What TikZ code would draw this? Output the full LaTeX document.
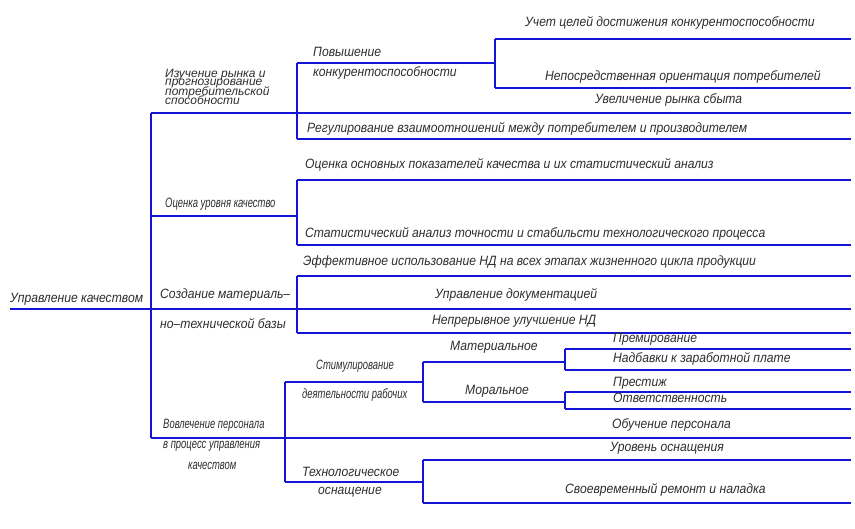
\documentclass[tikz,border=0pt]{standalone}
\usepackage{fontspec}
\setmainfont{Liberation Sans}
\newfontfamily\mainf{Liberation Sans}[FakeStretch=0.9]
\newfontfamily\narrowf{Liberation Sans}[FakeStretch=0.7]
\begin{document}
\begin{tikzpicture}[x=1pt,y=-1pt,
  ln/.style={draw={rgb,255:red,20;green,20;blue,215},line width=1.8pt},
  lbl/.style={anchor=west,inner sep=0pt,text={rgb,255:red,45;green,45;blue,45},font=\mainf\itshape\fontsize{13.5}{14}\selectfont},
  sml/.style={anchor=west,inner sep=0pt,text={rgb,255:red,45;green,45;blue,45},font=\narrowf\itshape\fontsize{13.5}{14}\selectfont},
  tight/.style={anchor=west,inner sep=0pt,text={rgb,255:red,45;green,45;blue,45},font=\itshape\fontsize{12}{12}\selectfont}]
\useasboundingbox (0,0) rectangle (855,529);
% junction coordinates
\coordinate (r0) at (10,309);
\coordinate (tA) at (151,113);
\coordinate (tB) at (151,216);
\coordinate (tC) at (151,309);
\coordinate (tD) at (151,438);
\coordinate (eA) at (851,113);
\coordinate (vA1) at (297,63);
\coordinate (vA2) at (297,139);
\coordinate (eA2) at (851,139);
\coordinate (kA) at (495,63);
\coordinate (kA1) at (495,39);
\coordinate (kA2) at (495,88);
\coordinate (eK1) at (851,39);
\coordinate (eK2) at (851,88);
\coordinate (jB) at (297,216);
\coordinate (vB1) at (297,180);
\coordinate (vB2) at (297,245);
\coordinate (eB1) at (851,180);
\coordinate (eB2) at (851,245);
\coordinate (jC) at (297,309);
\coordinate (vC1) at (297,276);
\coordinate (vC2) at (297,333);
\coordinate (eC0) at (851,309);
\coordinate (eC1) at (851,276);
\coordinate (eC2) at (851,333);
\coordinate (eD) at (851,438);
\coordinate (vD1) at (285,382);
\coordinate (vD2) at (285,482);
\coordinate (jS) at (423,382);
\coordinate (vS1) at (423,362);
\coordinate (vS2) at (423,402);
\coordinate (jM) at (565,362);
\coordinate (vM1) at (565,349);
\coordinate (vM2) at (565,370);
\coordinate (eM1) at (851,349);
\coordinate (eM2) at (851,370);
\coordinate (jR) at (565,402);
\coordinate (vR1) at (565,392);
\coordinate (vR2) at (565,409);
\coordinate (eR1) at (851,392);
\coordinate (eR2) at (851,409);
\coordinate (jT) at (423,482);
\coordinate (vT1) at (423,460);
\coordinate (vT2) at (423,503);
\coordinate (eT1) at (851,460);
\coordinate (eT2) at (851,503);
% lines
\draw[ln] (r0) -- (jC);
\draw[ln] (tA) -- (tD);
\draw[ln] (tA) -- (eA);
\draw[ln] (vA1) -- (vA2);
\draw[ln] (vA1) -- (kA);
\draw[ln] (kA1) -- (kA2);
\draw[ln] (kA1) -- (eK1);
\draw[ln] (kA2) -- (eK2);
\draw[ln] (vA2) -- (eA2);
\draw[ln] (tB) -- (jB);
\draw[ln] (vB1) -- (vB2);
\draw[ln] (vB1) -- (eB1);
\draw[ln] (vB2) -- (eB2);
\draw[ln] (vC1) -- (vC2);
\draw[ln] (vC1) -- (eC1);
\draw[ln] (jC) -- (eC0);
\draw[ln] (vC2) -- (eC2);
\draw[ln] (tD) -- (eD);
\draw[ln] (vD1) -- (vD2);
\draw[ln] (vD1) -- (jS);
\draw[ln] (vS1) -- (vS2);
\draw[ln] (vS1) -- (jM);
\draw[ln] (vM1) -- (vM2);
\draw[ln] (vM1) -- (eM1);
\draw[ln] (vM2) -- (eM2);
\draw[ln] (vS2) -- (jR);
\draw[ln] (vR1) -- (vR2);
\draw[ln] (vR1) -- (eR1);
\draw[ln] (vR2) -- (eR2);
\draw[ln] (vD2) -- (jT);
\draw[ln] (vT1) -- (vT2);
\draw[ln] (vT1) -- (eT1);
\draw[ln] (vT2) -- (eT2);
% labels
\node[lbl] (root) at (10,299) {Управление качеством};
\node[tight] (b1a) at (165,75) {Изучение рынка и};
\node[tight] (b1b) at (165,83.5) {прогнозирование};
\node[tight] (b1c) at (165,92) {потребительской};
\node[tight] (b1d) at (165,100.5) {способности};
\node[lbl] (p1) at (313,52) {Повышение};
\node[lbl] (p2) at (313,73) {конкурентоспособности};
\node[lbl] (u1) at (525,23) {Учет целей достижения конкурентоспособности};
\node[lbl] (u2) at (545,77) {Непосредственная ориентация потребителей};
\node[lbl] (u3) at (595,100) {Увеличение рынка сбыта};
\node[lbl] (u4) at (307,129) {Регулирование взаимоотношений между потребителем и производителем};
\node[lbl] (o1) at (305,165) {Оценка основных показателей качества и их статистический анализ};
\node[sml] (b2) at (165,204) {Оценка уровня качество};
\node[lbl] (o2) at (305,234) {Статистический анализ точности и стабильсти технологического процесса};
\node[lbl] (e1) at (303,262) {Эффективное использование НД на всех этапах жизненного цикла продукции};
\node[lbl] (b3a) at (160,295) {Создание материаль–};
\node[lbl] (b3b) at (160,324) {но–технической базы};
\node[lbl] (e2) at (435,295) {Управление документацией};
\node[lbl] (e3) at (432,321) {Непрерывное улучшение НД};
\node[sml] (s1) at (316,366) {Стимулирование};
\node[sml] (s2) at (302,395) {деятельности рабочих};
\node[lbl] (m1) at (450,347) {Материальное};
\node[lbl] (m2) at (613,339) {Премирование};
\node[lbl] (m3) at (613,359) {Надбавки к заработной плате};
\node[lbl] (r1) at (465,391) {Моральное};
\node[lbl] (r2) at (613,383) {Престиж};
\node[lbl] (r3) at (613,398) {Ответственность};
\node[sml] (b4a) at (163,425) {Вовлечение персонала};
\node[sml] (b4b) at (163,446) {в процесс управления};
\node[sml] (b4c) at (188,466) {качеством};
\node[lbl] (d1) at (612,425) {Обучение персонала};
\node[lbl] (t1) at (302,472) {Технологическое};
\node[lbl] (t2) at (318,492) {оснащение};
\node[lbl] (w1) at (610,448) {Уровень оснащения};
\node[lbl] (w2) at (565,490) {Своевременный ремонт и наладка};
\end{tikzpicture}
\end{document}
